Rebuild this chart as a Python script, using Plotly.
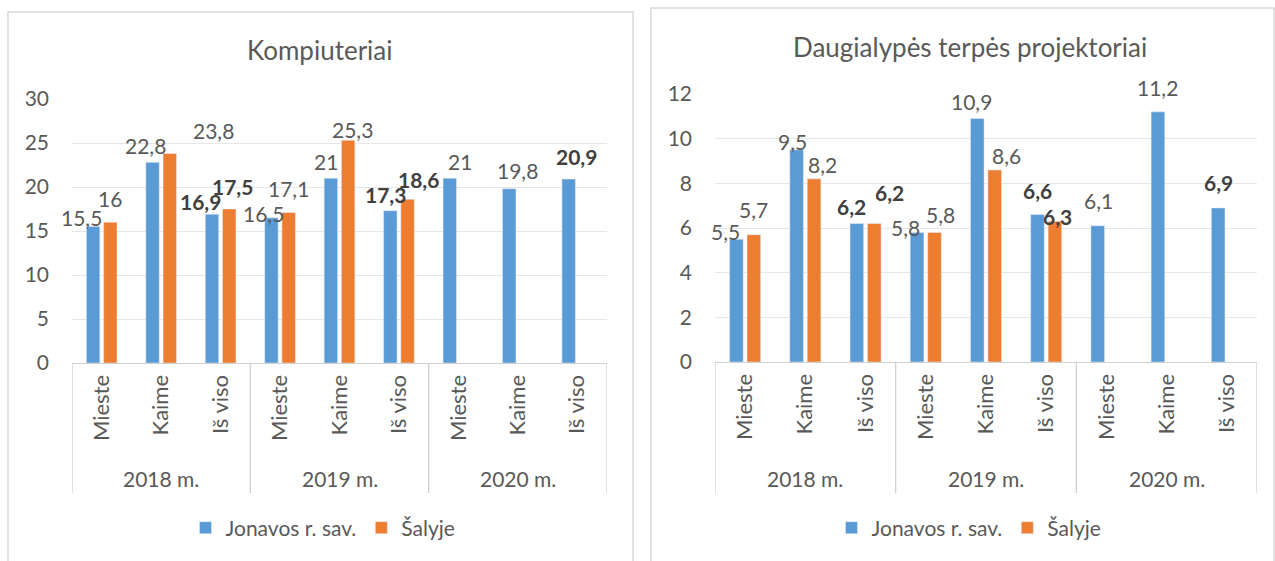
import plotly.graph_objects as go

# ---------------- data ----------------
areas = ["Mieste", "Kaime", "Iš viso"]
years = ["2018 m.", "2019 m.", "2020 m."]
series_names = ["Jonavos r. sav.", "Šalyje"]

komp_jonava = [15.5, 22.8, 16.9, 16.5, 21, 17.3, 21, 19.8, 20.9]
komp_salyje = [16, 23.8, 17.5, 17.1, 25.3, 18.6, None, None, None]

proj_jonava = [5.5, 9.5, 6.2, 5.8, 10.9, 6.6, 6.1, 11.2, 6.9]
proj_salyje = [5.7, 8.2, 6.2, 5.8, 8.6, 6.3, None, None, None]

titles = ["Kompiuteriai", "Daugialypės terpės projektoriai"]

# ---------------- label nudges (px): (dx, height of label centre above bar top) ----
komp_j_off = [(-11.5, 9.6), (-7.5, 16.5), (-11.5, 13), (-7.5, 4.8), (-4.5, 17), (-5, 16), (10.5, 17), (8, 18), (7.5, 23)]
komp_s_off = [(0, 24), (44, 22.6), (3.5, 23), (0, 24.5), (4.5, 10.4), (11, 20)]
proj_j_off = [(-11, 7.6), (-4.5, 8.6), (-5.5, 17), (-11.5, 5), (-5.5, 17.5), (0, 24), (0.5, 25), (0, 24.5), (0, 25)]
proj_s_off = [(0, 25), (8.5, 14.5), (15.5, 31), (6, 18), (11.5, 14.6), (2.5, 4.8)]

# ---------------- style ----------------
W, H = 1275, 561
BLUE = "#5B9BD5"
ORANGE = "#ED7D31"
TXT = "#595959"
GRID = "#E6E6E6"
AXL = "#D0D0D0"
FONT = "Lato"
BARGAP = 0.42

cats = [a for _ in years for a in areas]
xs = list(range(len(cats)))


def px_y(p):
    return 1 - p / H


panels = [
    dict(j=komp_jonava, s=komp_salyje, jo=komp_j_off, so=komp_s_off, title=titles[0],
         xd=(72, 607), yb=363, yt=99, yr=[0, 30], dt=5, xa="x", ya="y", leg="legend",
         tx=320, ty=50, lx=323, border=(8, 633, 12)),
    dict(j=proj_jonava, s=proj_salyje, jo=proj_j_off, so=proj_s_off, title=titles[1],
         xd=(715, 1257), yb=362, yt=94, yr=[0, 12], dt=2, xa="x2", ya="y2", leg="legend2",
         tx=970, ty=47, lx=969, border=(651, 1274, 8)),
]

fig = go.Figure()
annotations = []
shapes = []
layout = {}

for k, P in enumerate(panels):
    suffix = "" if k == 0 else "2"
    fig.add_trace(go.Bar(x=xs, y=P["j"], name=series_names[0], marker_color=BLUE,
                         xaxis=P["xa"], yaxis=P["ya"], legend=P["leg"], hoverinfo="skip"))
    fig.add_trace(go.Bar(x=xs, y=P["s"], name=series_names[1], marker_color=ORANGE,
                         xaxis=P["xa"], yaxis=P["ya"], legend=P["leg"], hoverinfo="skip"))

    x0, x1 = P["xd"]
    layout["xaxis" + suffix] = dict(
        domain=[x0 / W, x1 / W], range=[-0.5, len(cats) - 0.5], anchor=P["ya"],
        tickmode="array", tickvals=xs, ticktext=cats, tickangle=-90,
        tickfont=dict(family=FONT, size=22, color=TXT), ticks="",
        ticklabelstandoff=2, automargin=False,
        showline=True, linecolor=AXL, linewidth=1.3, showgrid=False, zeroline=False,
        fixedrange=True)
    layout["yaxis" + suffix] = dict(
        domain=[px_y(P["yb"]), px_y(P["yt"])], range=P["yr"], dtick=P["dt"], anchor=P["xa"],
        tickfont=dict(family=FONT, size=21, color=TXT), ticks="",
        ticklabelstandoff=22, automargin=False,
        showgrid=True, gridcolor=GRID, gridwidth=1.2, zeroline=False, showline=False,
        fixedrange=True)

    # title
    annotations.append(dict(text=P["title"], xref="paper", yref="paper", x=P["tx"] / W,
                            y=px_y(P["ty"]), xanchor="center", yanchor="middle",
                            showarrow=False, font=dict(family=FONT, size=26, color=TXT)))
    # year labels
    for g, yr in enumerate(years):
        annotations.append(dict(text=yr, xref=P["xa"], yref="paper", x=g * 3 + 1,
                                y=px_y(478), xanchor="center", yanchor="middle",
                                showarrow=False, font=dict(family=FONT, size=21, color=TXT)))
    # dividers
    for b in [-0.5, 2.5, 5.5, 8.5]:
        shapes.append(dict(type="line", xref=P["xa"], yref="paper", x0=b, x1=b,
                           y0=px_y(493), y1=px_y(P["yb"]), line=dict(color=AXL, width=1.3)))
    # panel border
    bx0, bx1, by = P["border"]
    shapes.append(dict(type="rect", xref="paper", yref="paper", x0=bx0 / W, x1=bx1 / W,
                       y0=-0.2, y1=px_y(by), line=dict(color="#D9D9D9", width=1.5)))

    # data labels
    cat_px = (x1 - x0) / len(cats)
    off = cat_px * (1 - BARGAP) / 4
    for vals, offs, sgn in [(P["j"], P["jo"], -1), (P["s"], P["so"], 1)]:
        for i, v in enumerate(vals):
            if v is None:
                continue
            dx, dy = offs[i]
            t = f"{v:g}".replace(".", ",")
            bold = cats[i] == "Iš viso"
            if bold:
                t = "<b>" + t + "</b>"
            annotations.append(dict(text=t, xref=P["xa"], yref=P["ya"], x=xs[i], y=v,
                                    xshift=sgn * off + dx, yshift=dy,
                                    xanchor="center", yanchor="middle", showarrow=False,
                                    font=dict(family=FONT, size=21,
                                              color="#404040" if bold else TXT)))

    layout[P["leg"]] = dict(orientation="h", x=P["lx"] / W, xanchor="center",
                            y=px_y(528), yanchor="middle",
                            font=dict(family=FONT, size=21, color=TXT),
                            bgcolor="rgba(0,0,0,0)", itemclick=False, itemdoubleclick=False)

fig.update_layout(
    width=W, height=H, margin=dict(l=0, r=0, t=0, b=0, autoexpand=False),
    paper_bgcolor="white", plot_bgcolor="white",
    barmode="group", bargap=BARGAP, bargroupgap=0.22,
    showlegend=True, annotations=annotations, shapes=shapes,
    **layout)

fig.write_html("out.html", config={"displayModeBar": False},
               post_script="document.body.style.margin='0';document.body.style.overflow='hidden';")
